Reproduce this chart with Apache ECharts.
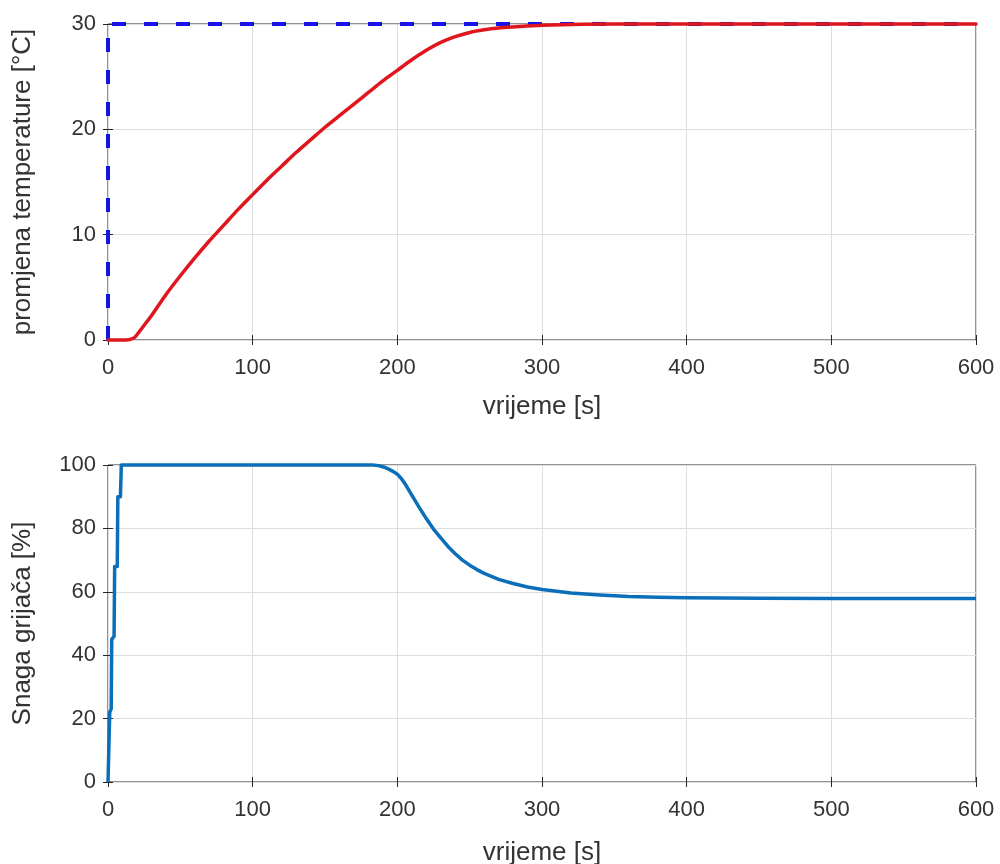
<!DOCTYPE html>
<html>
<head>
<meta charset="utf-8">
<title>Temperatura i snaga grijača</title>
<script src="https://cdn.jsdelivr.net/npm/echarts@6/dist/echarts.min.js"></script>
<style>
  html, body { margin: 0; padding: 0; background: #fff; }
  #chart { width: 1000px; height: 864px; }
</style>
</head>
<body>
<div id="chart"></div>
<script>
// podaci ocitani sa slike
var tempTime = [0, 10, 15, 18, 20, 25, 30, 40, 50, 60, 70, 80, 90, 100, 110, 120, 130, 140, 150,
  160, 170, 180, 190, 200, 210, 220, 230, 240, 250, 260, 270, 280, 300, 350, 400, 500, 600];
var tempValue = [0, 0, 0.05, 0.2, 0.5, 1.4, 2.3, 4.3, 6.1, 7.8, 9.4, 10.9, 12.4, 13.8, 15.2, 16.5,
  17.8, 19.0, 20.2, 21.3, 22.4, 23.5, 24.6, 25.6, 26.6, 27.5, 28.25, 28.8, 29.2, 29.45, 29.62, 29.72,
  29.88, 30, 30, 30, 30];

var refTime = [0, 0, 600];
var refValue = [0, 30, 30];

var powerTime = [0, 1.2, 2.2, 2.6, 4.2, 4.6, 6.4, 6.8, 8.6, 9.2, 183, 187, 191, 194, 197, 200, 203,
  206, 210, 215, 220, 225, 230, 235, 240, 245, 250, 255, 260, 270, 280, 290, 300, 320, 340, 360,
  380, 400, 450, 500, 600];
var powerValue = [0, 22, 23, 45, 46, 68, 68, 90, 90, 100, 100, 99.8, 99.3, 98.7, 98, 97.1, 95.6,
  93.6, 90.5, 86.7, 83.1, 79.8, 77, 74.3, 72, 70, 68.4, 67, 65.8, 63.9, 62.6, 61.5, 60.7, 59.6,
  59, 58.5, 58.3, 58.1, 58, 57.9, 57.9];

var xTicks = [0, 100, 200, 300, 400, 500, 600];
var tempTicks = [0, 10, 20, 30];
var powerTicks = [0, 20, 40, 60, 80, 100];

function pairs(xs, ys) {
  var out = [];
  for (var i = 0; i < xs.length; i++) {
    out.push([xs[i], ys[i]]);
  }
  return out;
}

var textColor = "#333";
var font = "Liberation Sans, Arial, sans-serif";

function xAxisMain(gridIndex, gap) {
  return {
    type: "value", gridIndex: gridIndex,
    min: xTicks[0], max: xTicks[xTicks.length - 1], interval: 100,
    name: "vrijeme [s]", nameLocation: "middle", nameGap: gap,
    nameTextStyle: { color: textColor, fontSize: 26, fontFamily: font },
    axisLine: { show: false },
    axisTick: { inside: true, length: 5, lineStyle: { color: "#262626" } },
    axisLabel: { color: textColor, fontSize: 22, fontFamily: font, margin: 17 },
    splitLine: { show: true, lineStyle: { color: "#dedede", width: 1 } }
  };
}
function xAxisTop(gridIndex) {
  return {
    type: "value", gridIndex: gridIndex, position: "top",
    min: xTicks[0], max: xTicks[xTicks.length - 1], interval: 100,
    axisLine: { show: false },
    axisTick: { inside: true, length: 5, lineStyle: { color: "#262626" } },
    axisLabel: { show: false }, splitLine: { show: false }
  };
}
function yAxisMain(gridIndex, ticks, name) {
  return {
    type: "value", gridIndex: gridIndex,
    min: ticks[0], max: ticks[ticks.length - 1], interval: ticks[1] - ticks[0],
    name: name, nameLocation: "middle", nameGap: 72,
    nameTextStyle: { color: textColor, fontSize: 26, fontFamily: font },
    axisLine: { show: false },
    axisTick: { inside: true, length: 5, lineStyle: { color: "#262626" } },
    axisLabel: { color: textColor, fontSize: 22, fontFamily: font, margin: 12 },
    splitLine: { show: true, lineStyle: { color: "#dedede", width: 1 } }
  };
}
function yAxisRight(gridIndex, ticks) {
  return {
    type: "value", gridIndex: gridIndex, position: "right",
    min: ticks[0], max: ticks[ticks.length - 1], interval: ticks[1] - ticks[0],
    axisLine: { show: false },
    axisTick: { inside: true, length: 5, lineStyle: { color: "#262626" } },
    axisLabel: { show: false }, splitLine: { show: false }
  };
}

var chart = echarts.init(document.getElementById("chart"), null, { renderer: "canvas" });

chart.setOption({
  backgroundColor: "#fff",
  animation: false,
  grid: [
    { left: 108, top: 24, width: 868, height: 316, show: true, borderColor: "#262626", borderWidth: 1,
      backgroundColor: "#fff", outerBoundsMode: "none", containLabel: false },
    { left: 108, top: 465, width: 868, height: 317, show: true, borderColor: "#262626", borderWidth: 1,
      backgroundColor: "#fff", outerBoundsMode: "none", containLabel: false }
  ],
  xAxis: [xAxisMain(0, 54), xAxisTop(0), xAxisMain(1, 58), xAxisTop(1)],
  yAxis: [
    yAxisMain(0, tempTicks, "promjena temperature [°C]"),
    yAxisRight(0, tempTicks),
    yAxisMain(1, powerTicks, "Snaga grijača [%]"),
    yAxisRight(1, powerTicks)
  ],
  series: [
    {
      type: "line", xAxisIndex: 0, yAxisIndex: 0, data: pairs(refTime, refValue),
      showSymbol: false, clip: false,
      lineStyle: { color: "#1414e6", width: 4, type: [14, 18] }
    },
    {
      type: "line", xAxisIndex: 0, yAxisIndex: 0, data: pairs(tempTime, tempValue),
      showSymbol: false, clip: false, smooth: 0.3,
      lineStyle: { color: "#e0161e", width: 3.5, join: "round", cap: "round" }
    },
    {
      type: "line", xAxisIndex: 2, yAxisIndex: 2, data: pairs(powerTime, powerValue),
      showSymbol: false, clip: false,
      lineStyle: { color: "#0a6fb8", width: 3.5, join: "round" }
    }
  ]
});
</script>
</body>
</html>
